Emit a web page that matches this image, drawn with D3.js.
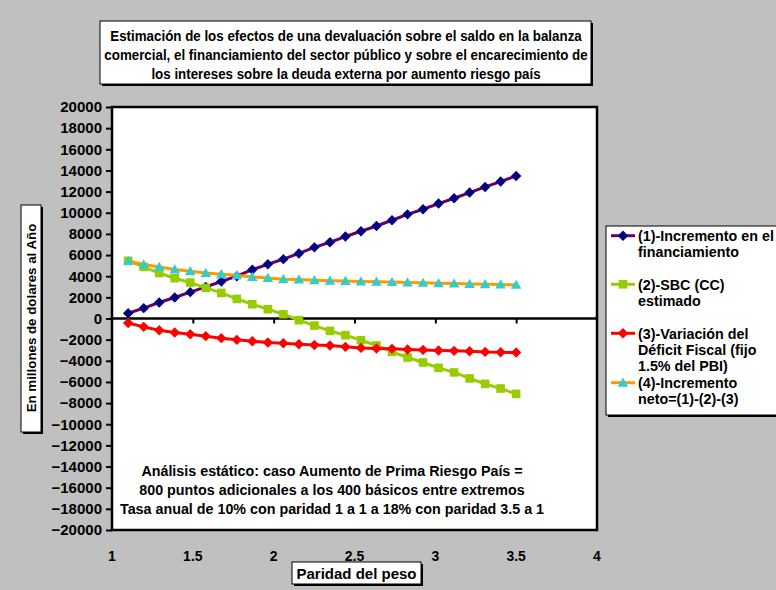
<!DOCTYPE html>
<html>
<head>
<meta charset="utf-8">
<script src="https://cdn.jsdelivr.net/npm/d3@7"></script>
<style>
  body { margin: 0; background: #c0c0c0; }
  svg { display: block; }
  text { font-family: "Liberation Sans", Arial, sans-serif; font-weight: bold; fill: #000; }
</style>
</head>
<body>
<svg id="chart" width="776" height="590"></svg>
<script>
// Paridad del peso (x) for every point of the four series
const paridad = [1.100, 1.196, 1.292, 1.388, 1.484, 1.580, 1.676, 1.772, 1.868, 1.964,
                 2.060, 2.156, 2.252, 2.348, 2.444, 2.540, 2.636, 2.732, 2.828, 2.924,
                 3.020, 3.116, 3.212, 3.308, 3.404, 3.500];

// (1) Incremento en el financiamiento
const financiamiento = [500, 980, 1510, 1990, 2490, 2990, 3500, 4000, 4620, 5130,
                        5610, 6150, 6730, 7210, 7750, 8250, 8750, 9290, 9850, 10330,
                        10870, 11370, 11910, 12440, 12950, 13480];

// (2) SBC (CC) estimado
const sbcEstimado = [5450, 4880, 4300, 3810, 3400, 2890, 2420, 1850, 1350, 880,
                     400, -160, -670, -1170, -1580, -2050, -2550, -3160, -3690, -4160,
                     -4670, -5100, -5670, -6180, -6620, -7130];

// (3) Variación del Déficit Fiscal
const deficitFiscal = [-420, -790, -1110, -1320, -1490, -1670, -1860, -2020, -2150, -2270,
                       -2340, -2430, -2500, -2550, -2680, -2780, -2840, -2870, -2930, -2970,
                       -3020, -3060, -3090, -3160, -3190, -3220];

// (4) Incremento neto
const incrementoNeto = [5450, 5100, 4880, 4630, 4470, 4310, 4190, 4090, 3930, 3840,
                        3720, 3690, 3620, 3580, 3550, 3510, 3470, 3440, 3400, 3370,
                        3340, 3300, 3270, 3240, 3210, 3180];

const yTickValues = [-20000, -18000, -16000, -14000, -12000, -10000, -8000, -6000, -4000, -2000,
                     0, 2000, 4000, 6000, 8000, 10000, 12000, 14000, 16000, 18000, 20000];
const xTickValues = [1, 1.5, 2, 2.5, 3, 3.5, 4];

const titleLines = [
  "Estimación de los efectos de una devaluación sobre el saldo en la balanza",
  "comercial, el financiamiento del sector público y sobre el encarecimiento de",
  "los intereses sobre la deuda externa por aumento riesgo país"
];
const noteLines = [
  "Análisis estático: caso Aumento de Prima Riesgo País =",
  "800 puntos adicionales a los 400 básicos entre extremos",
  "Tasa anual de 10% con paridad 1 a 1 a 18% con paridad 3.5 a 1"
];

const series = [
  { name: ["(1)-Incremento en el", "financiamiento"], values: financiamiento,
    line: "#660066", fill: "#000080", shape: "diamond" },
  { name: ["(2)-SBC (CC)", "estimado"], values: sbcEstimado,
    line: "#99CC00", fill: "#99CC00", shape: "square" },
  { name: ["(3)-Variación del", "Déficit Fiscal (fijo", "1.5% del PBI)"], values: deficitFiscal,
    line: "#FF0000", fill: "#FF0000", shape: "diamond" },
  { name: ["(4)-Incremento", "neto=(1)-(2)-(3)"], values: incrementoNeto,
    line: "#FF9900", fill: "#33CCCC", shape: "triangle" }
];

const svg = d3.select("#chart");
const plot = { left: 112, right: 597, top: 107, bottom: 530 };

const x = d3.scaleLinear().domain([1, 4]).range([plot.left, plot.right]);
const y = d3.scaleLinear().domain([-20000, 20000]).range([plot.bottom, plot.top]);

function markerPath(shape) {
  if (shape === "diamond") return "M0,-5.2L5.2,0L0,5.2L-5.2,0Z";
  if (shape === "square") return "M-4.3,-4.3H4.3V4.3H-4.3Z";
  return "M0,-5.2L5.3,4H-5.3Z";
}

// white box with a drop shadow
function shadowBox(x0, y0, w, h) {
  svg.append("rect").attr("x", x0 + 2).attr("y", y0 + 2).attr("width", w).attr("height", h)
    .attr("fill", "#000");
  svg.append("rect").attr("x", x0).attr("y", y0).attr("width", w).attr("height", h)
    .attr("fill", "#fff").attr("stroke", "#000").attr("stroke-width", 1);
}

// Title (slightly condensed lettering)
shadowBox(100, 21, 491, 63);
svg.append("g").attr("transform", "translate(346,0) scale(0.89,1)")
  .selectAll("text").data(titleLines).join("text")
  .attr("x", 0).attr("y", (d, i) => 41 + i * 19)
  .attr("text-anchor", "middle").attr("font-size", "15px").text(d => d);

// Plot area
svg.append("rect").attr("x", plot.left).attr("y", plot.top)
  .attr("width", plot.right - plot.left).attr("height", plot.bottom - plot.top)
  .attr("fill", "#fff").attr("stroke", "#000").attr("stroke-width", 2.5);

// Y axis
const yAxis = d3.axisLeft(y).tickValues(yTickValues).tickSize(6).tickPadding(4).tickFormat(d3.format("d"));
const gy = svg.append("g").attr("transform", `translate(${plot.left},0)`).call(yAxis);
gy.select(".domain").remove();
gy.selectAll(".tick line").attr("stroke", "#000").attr("stroke-width", 2);
gy.selectAll(".tick text").attr("font-size", "15px")
  .attr("font-family", "'Liberation Sans', Arial, sans-serif").attr("font-weight", "bold").attr("fill", "#000");

// X axis line at zero with ticks
const xAxis = d3.axisBottom(x).tickValues(xTickValues.filter(v => v > 1 && v < 4)).tickSize(5).tickFormat("");
const gx = svg.append("g").attr("transform", `translate(0,${y(0)})`).call(xAxis);
gx.select(".domain").attr("stroke", "#000").attr("stroke-width", 2.5).attr("d", `M${plot.left},0H${plot.right}`);
gx.selectAll(".tick line").attr("stroke", "#000").attr("stroke-width", 2);

// X tick labels under the plot area
svg.append("g").selectAll("text").data(xTickValues).join("text")
  .attr("x", d => x(d)).attr("y", 561).attr("text-anchor", "middle")
  .attr("font-size", "14px").text(d => d);

// Series
const line = d3.line().x((d, i) => x(paridad[i])).y(d => y(d));
series.forEach(s => {
  const g = svg.append("g");
  g.append("path").datum(s.values).attr("d", line)
    .attr("fill", "none").attr("stroke", s.line).attr("stroke-width", 3).attr("stroke-linejoin", "round");
  g.selectAll("path.m").data(s.values).join("path").attr("class", "m")
    .attr("transform", (d, i) => `translate(${x(paridad[i])},${y(d)})`)
    .attr("d", markerPath(s.shape)).attr("fill", s.fill);
});

// Note inside the plot
svg.append("g").selectAll("text").data(noteLines).join("text")
  .attr("x", 332).attr("y", (d, i) => 476 + i * 19)
  .attr("text-anchor", "middle").attr("font-size", "14.3px").text(d => d);

// Y axis title
shadowBox(21, 205, 20, 227);
svg.append("text").attr("transform", "translate(36,318) rotate(-90)")
  .attr("text-anchor", "middle").attr("font-size", "13.3px").text("En millones de dolares al Año");

// X axis title
shadowBox(292, 562, 129, 22);
svg.append("text").attr("x", 356.5).attr("y", 579).attr("text-anchor", "middle")
  .attr("font-size", "15px").text("Paridad del peso");

// Legend
shadowBox(606, 226, 190, 189);
const legendY = [235.7, 284.3, 333.3, 382.7];
series.forEach((s, k) => {
  const g = svg.append("g").attr("transform", `translate(0,${legendY[k]})`);
  g.append("line").attr("x1", 611).attr("x2", 635).attr("y1", 0).attr("y2", 0)
    .attr("stroke", s.line).attr("stroke-width", 3);
  g.append("path").attr("transform", "translate(623,0)").attr("d", markerPath(s.shape)).attr("fill", s.fill);
  g.selectAll("text").data(s.name).join("text")
    .attr("x", 638).attr("y", (d, i) => 5.4 + i * 16)
    .attr("font-size", "14.3px").text(d => d);
});
</script>
</body>
</html>
